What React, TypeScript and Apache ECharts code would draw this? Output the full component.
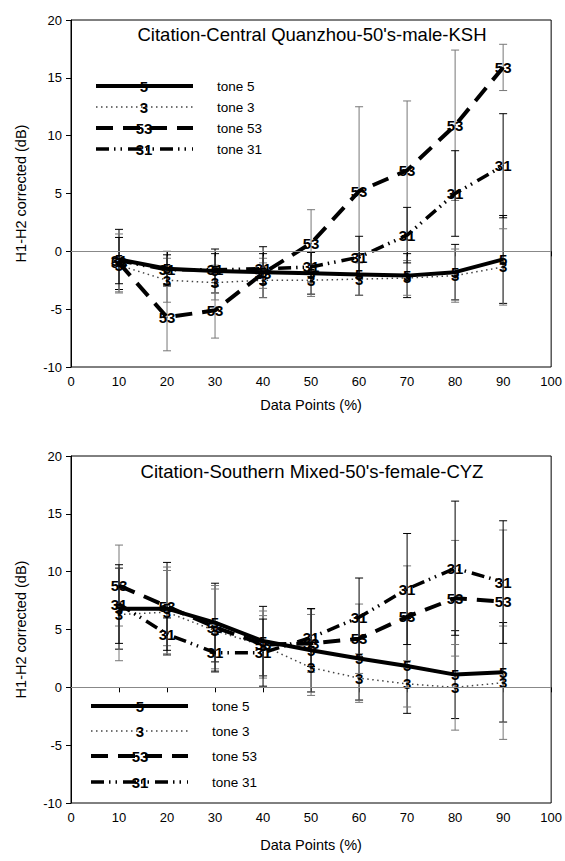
import React, { useEffect, useRef } from "react";
import * as echarts from "echarts";

const xPoints = [10, 20, 30, 40, 50, 60, 70, 80, 90];
const toneNames = ["5", "3", "53", "31"];
const legendTexts = ["tone 5", "tone 3", "tone 53", "tone 31"];
const yTicks = [-10, -5, 0, 5, 10, 15, 20];

const titleTop = "Citation-Central Quanzhou-50's-male-KSH";
const titleBottom = "Citation-Southern Mixed-50's-female-CYZ";

// Top chart means
const top5 = [-0.7, -1.5, -1.7, -1.8, -1.9, -2.0, -2.1, -1.8, -0.7];
const top3 = [-1.2, -2.5, -2.7, -2.5, -2.5, -2.4, -2.3, -2.1, -1.35];
const top53 = [-1.0, -5.7, -5.1, -1.9, 0.7, 5.2, 7.0, 10.9, 15.9];
const top31 = [-0.8, -1.6, -1.6, -1.5, -1.35, -0.5, 1.4, 5.0, 7.4];
// Top chart error (half-widths)
const topErr5 = [2.6, 1.5, 1.9, 2.2, 1.8, 1.8, 1.9, 2.4, 3.8];
const topErr3 = [2.4, 1.9, 1.5, 1.5, 1.4, 1.4, 1.5, 2.3, 3.3];
const topErr53 = [2.5, 2.9, 2.4, 1.3, 2.9, 7.3, 6.0, 6.5, 2.0];
const topErr31 = [2.0, 1.3, 1.4, 1.3, 1.3, 1.8, 2.4, 3.7, 4.5];

// Bottom chart means
const bot5 = [6.8, 6.8, 5.6, 4.0, 3.2, 2.5, 1.85, 1.1, 1.3];
const bot3 = [6.3, 6.5, 4.9, 3.6, 1.7, 0.8, 0.3, 0.0, 0.4];
const bot53 = [8.8, 7.0, 5.2, 3.7, 3.8, 4.2, 6.1, 7.7, 7.4];
const bot31 = [7.2, 4.6, 3.0, 3.0, 4.3, 6.05, 8.5, 10.3, 9.1];
// Bottom chart error (half-widths)
const botErr5 = [3.5, 4.0, 3.4, 3.0, 3.6, 3.6, 4.1, 3.8, 4.3];
const botErr3 = [4.0, 3.6, 3.6, 2.6, 2.4, 2.1, 2.0, 3.7, 4.9];
const botErr53 = [3.5, 3.4, 3.6, 2.9, 2.5, 3.0, 4.4, 5.0, 6.2];
const botErr31 = [3.4, 1.4, 1.6, 2.9, 2.5, 3.4, 4.8, 5.8, 5.3];

const FONT = "'Liberation Sans', Arial, sans-serif";

const lineStyles = [
  { color: "#000", width: 4, type: "solid" as any },
  { color: "#444", width: 1.5, type: [1.5, 3.5] as any },
  { color: "#000", width: 4, type: [17, 10] as any },
  { color: "#000", width: 3.5, type: [13, 5, 1.5, 5, 1.5, 6] as any },
];
const errColors = ["#000", "#777", "#777", "#000"];

export default function App() {
  const ref = useRef<HTMLDivElement>(null);
  useEffect(() => {
    if (!ref.current) return;
    const chart = echarts.init(ref.current, null, { renderer: "svg" });

    const grids = [
      { left: 71, right: 13, top: 20, height: 347 },
      { left: 71, right: 13, top: 456, height: 347 },
    ];
    const chartData = [
      { means: [top5, top3, top53, top31], errs: [topErr5, topErr3, topErr53, topErr31] },
      { means: [bot5, bot3, bot53, bot31], errs: [botErr5, botErr3, botErr53, botErr31] },
    ];

    const series: any[] = [];
    chartData.forEach((cd, gi) => {
      cd.means.forEach((m, si) => {
        const e = cd.errs[si];
        series.push({
          type: "custom",
          xAxisIndex: gi,
          yAxisIndex: gi,
          z: 1,
          silent: true,
          encode: { x: 0, y: [1, 2] },
          data: xPoints.map((x, i) => [x, m[i] - e[i], m[i] + e[i]]),
          renderItem: (params: any, api: any) => {
            const x = api.value(0);
            const lo = api.coord([x, api.value(1)]);
            const hi = api.coord([x, api.value(2)]);
            const st = { stroke: errColors[si], lineWidth: 1 };
            return {
              type: "group",
              children: [
                { type: "line", shape: { x1: lo[0], y1: lo[1], x2: hi[0], y2: hi[1] }, style: st },
                { type: "line", shape: { x1: lo[0] - 4, y1: lo[1], x2: lo[0] + 4, y2: lo[1] }, style: st },
                { type: "line", shape: { x1: hi[0] - 4, y1: hi[1], x2: hi[0] + 4, y2: hi[1] }, style: st },
              ],
            };
          },
          markLine:
            si === 0
              ? {
                  silent: true,
                  symbol: "none",
                  label: { show: false },
                  lineStyle: { color: "#888", width: 1, type: "solid" },
                  data: [{ yAxis: 0 }],
                }
              : undefined,
        });
      });
      cd.means.forEach((m, si) => {
        series.push({
          type: "line",
          name: toneNames[si],
          xAxisIndex: gi,
          yAxisIndex: gi,
          z: 3,
          data: xPoints.map((x, i) => [x, m[i]]),
          symbol: "circle",
          symbolSize: 1,
          itemStyle: { color: "#000" },
          lineStyle: lineStyles[si],
          label: {
            show: true,
            position: "inside",
            formatter: toneNames[si],
            color: "#000",
            fontFamily: FONT,
            fontSize: 15,
            fontWeight: "bold",
          },
        });
      });
    });

    const mkX = (gi: number) => ({
      type: "value",
      gridIndex: gi,
      min: 0,
      max: 100,
      interval: 10,
      name: "Data Points (%)",
      nameLocation: "middle",
      nameGap: gi === 0 ? 30 : 34,
      nameTextStyle: { fontFamily: FONT, fontSize: 14.5, color: "#000" },
      axisLine: { show: true, lineStyle: { color: "#000", width: 1 } },
      axisTick: { show: true, inside: false, length: 5, lineStyle: { color: "#000" } },
      axisLabel: { fontFamily: FONT, fontSize: 13, color: "#000", margin: 8 },
      splitLine: { show: false },
    });
    const mkY = (gi: number) => ({
      type: "value",
      gridIndex: gi,
      min: -10,
      max: 20,
      interval: 5,
      name: "H1-H2 corrected (dB)",
      nameLocation: "middle",
      nameGap: 43,
      nameTextStyle: { fontFamily: FONT, fontSize: 14.5, color: "#000" },
      axisLine: { show: true, lineStyle: { color: "#000", width: 1 } },
      axisTick: { show: true, inside: false, length: 5, lineStyle: { color: "#000" } },
      axisLabel: {
        fontFamily: FONT,
        fontSize: 13,
        color: "#000",
        margin: 9,
        formatter: (v: number) => (yTicks.includes(v) ? String(v) : ""),
      },
      splitLine: { show: false },
    });

    const legendRows = [
      { x1: 96, x2: 193, lx: 144, tx: 217, ys: [86, 107, 128, 149] },
      { x1: 91, x2: 188, lx: 140, tx: 212, ys: [706, 731, 756, 782] },
    ];
    const graphics: any[] = [];
    [titleTop, titleBottom].forEach((t, gi) => {
      graphics.push({
        type: "text",
        x: 312,
        y: gi === 0 ? 34 : 471,
        z: 10,
        style: {
          text: t,
          fontFamily: FONT,
          fontSize: 18.5,
          fill: "#000",
          textAlign: "center",
          textVerticalAlign: "middle",
        },
      });
    });
    legendRows.forEach((lr) => {
      lr.ys.forEach((y, si) => {
        const ls = lineStyles[si];
        graphics.push({
          type: "line",
          z: 10,
          shape: { x1: lr.x1, y1: y, x2: lr.x2, y2: y },
          style: {
            stroke: ls.color,
            lineWidth: ls.width,
            lineDash: ls.type === "solid" ? null : ls.type,
          },
        });
        graphics.push({
          type: "text",
          z: 11,
          x: lr.lx,
          y,
          style: {
            text: toneNames[si],
            fontFamily: FONT,
            fontSize: 15,
            fontWeight: "bold",
            fill: "#000",
            textAlign: "center",
            textVerticalAlign: "middle",
          },
        });
        graphics.push({
          type: "text",
          z: 11,
          x: lr.tx,
          y,
          style: {
            text: legendTexts[si],
            fontFamily: FONT,
            fontSize: 13.5,
            fill: "#000",
            textAlign: "left",
            textVerticalAlign: "middle",
          },
        });
      });
    });

    chart.setOption({
      animation: false,
      backgroundColor: "#fff",
      grid: grids.map((g) => ({
        ...g,
        show: true,
        borderColor: "#000",
        borderWidth: 1,
        backgroundColor: "transparent",
      })),
      xAxis: [mkX(0), mkX(1)],
      yAxis: [mkY(0), mkY(1)],
      series,
      graphic: graphics,
    });
    return () => chart.dispose();
  }, []);
  return (
    <div
      ref={ref}
      style={{ position: "fixed", left: 0, top: 0, width: 565, height: 861, background: "#fff" }}
    />
  );
}
